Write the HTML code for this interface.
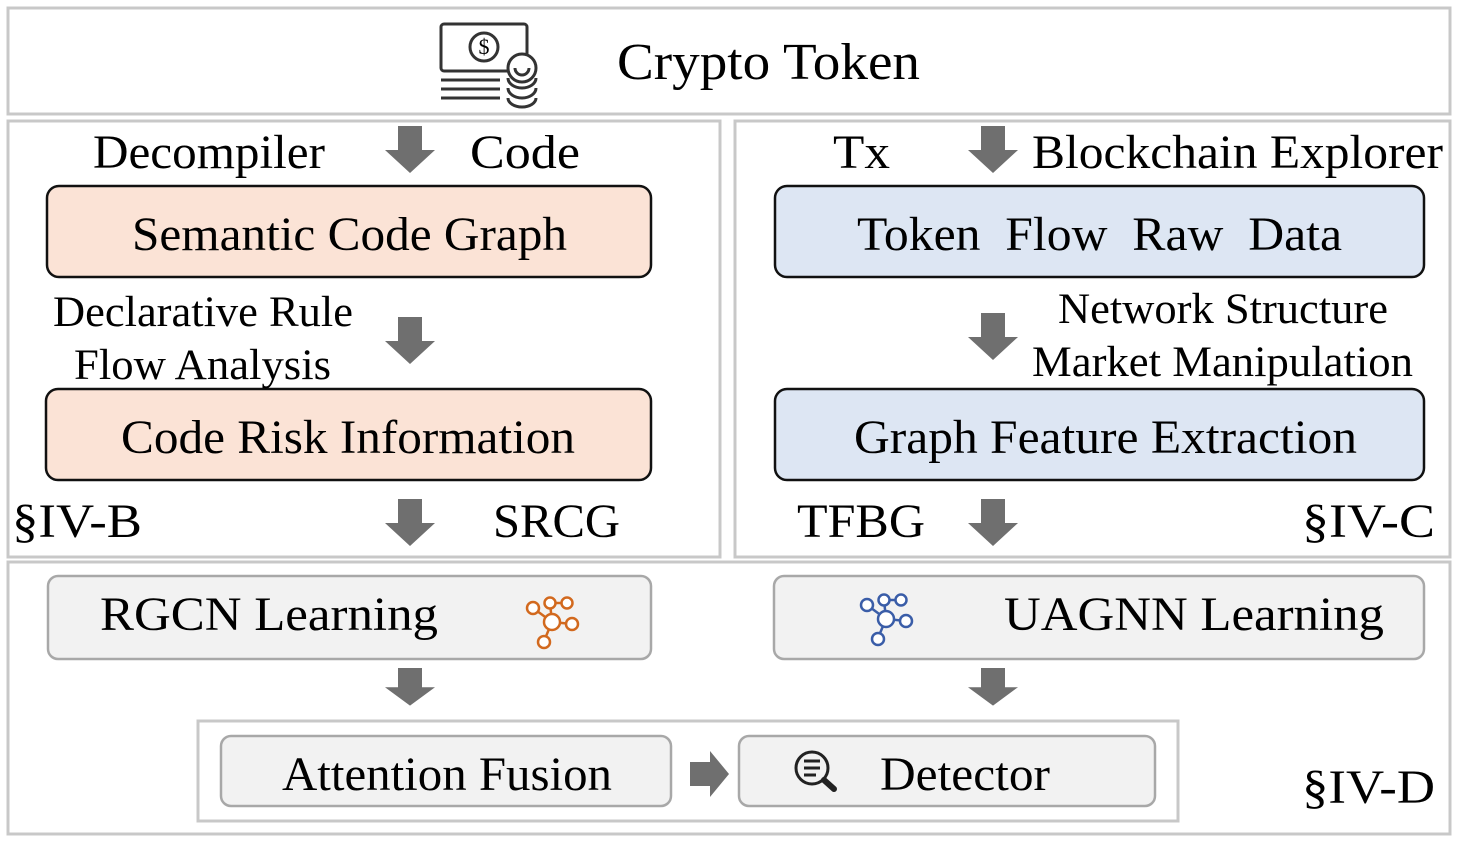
<!DOCTYPE html>
<html><head><meta charset="utf-8"><style>
html,body{margin:0;padding:0;background:#fff;}
svg{display:block;}
text{font-family:"Liberation Serif",serif;fill:#000;}
</style></head><body>
<svg width="1463" height="843" viewBox="0 0 1463 843" xmlns="http://www.w3.org/2000/svg">
<defs>
<g id="dn"><polygon points="-12,0 12,0 12,24 25,24 0,47 -25,24 -12,24" fill="#6f6f6f"/></g>
<g id="net">
<line x1="-19" y1="-14" x2="0" y2="0"/><line x1="0" y1="0" x2="-2" y2="-19"/><line x1="-2" y1="-19" x2="15" y2="-19"/><line x1="0" y1="0" x2="20" y2="2"/><line x1="0" y1="0" x2="-8" y2="19"/>
<circle cx="0" cy="0" r="8" fill="#fff"/><circle cx="-19" cy="-14" r="6" fill="#fff"/><circle cx="-2" cy="-19" r="5.5" fill="#fff"/><circle cx="15" cy="-19" r="5.5" fill="#fff"/><circle cx="20" cy="2" r="6" fill="#fff"/><circle cx="-8" cy="20" r="6" fill="#fff"/>
</g>
</defs>
<g fill="none" stroke="#c8c8c8" stroke-width="3">
<rect x="8" y="8" width="1442" height="106"/>
<rect x="8" y="121" width="712" height="436"/>
<rect x="735" y="121" width="715" height="436"/>
<rect x="8" y="562" width="1442" height="272"/>
<rect x="198" y="721" width="980" height="100"/>
</g>
<g fill="none" stroke="#333" stroke-width="3">
<rect x="441" y="24" width="86" height="47" rx="3"/>
<circle cx="484" cy="47" r="14"/>
<line x1="441" y1="80" x2="500" y2="80"/><line x1="441" y1="89" x2="500" y2="89"/><line x1="441" y1="98" x2="500" y2="98"/>
<circle cx="522" cy="68" r="14" fill="#fff"/>
<path d="M508 78 a14 10 0 0 0 28 0"/><path d="M508 88 a14 10 0 0 0 28 0"/><path d="M508 98 a14 9 0 0 0 28 0"/>
<path d="M515 68 a7 7 0 0 0 14 0"/>
</g>
<text x="484" y="54" font-size="22" text-anchor="middle" fill="#333">$</text>
<text x="617" y="79" font-size="52" textLength="303" lengthAdjust="spacingAndGlyphs">Crypto Token</text>

<text x="93" y="168" font-size="48" textLength="232" lengthAdjust="spacingAndGlyphs">Decompiler</text>
<text x="470" y="168" font-size="48" textLength="110" lengthAdjust="spacingAndGlyphs">Code</text>
<text x="833" y="168" font-size="48" textLength="57" lengthAdjust="spacingAndGlyphs">Tx</text>
<text x="1032" y="168" font-size="48" textLength="411" lengthAdjust="spacingAndGlyphs">Blockchain Explorer</text>

<g stroke-width="2.5">
<rect x="47" y="186" width="604" height="91" rx="12" fill="#fbe3d6" stroke="#111"/>
<rect x="46" y="389" width="605" height="91" rx="12" fill="#fbe3d6" stroke="#111"/>
<rect x="775" y="186" width="649" height="91" rx="12" fill="#dde6f3" stroke="#111"/>
<rect x="775" y="389" width="649" height="91" rx="12" fill="#dde6f3" stroke="#111"/>
<rect x="48" y="576" width="603" height="83" rx="10" fill="#f2f2f2" stroke="#a8a8a8"/>
<rect x="774" y="576" width="650" height="83" rx="10" fill="#f2f2f2" stroke="#a8a8a8"/>
<rect x="221" y="736" width="450" height="70" rx="10" fill="#f2f2f2" stroke="#a8a8a8"/>
<rect x="739" y="736" width="416" height="70" rx="10" fill="#f2f2f2" stroke="#a8a8a8"/>
</g>
<text x="132" y="250" font-size="48" textLength="435" lengthAdjust="spacingAndGlyphs">Semantic Code Graph</text>
<text x="121" y="453" font-size="48" textLength="454" lengthAdjust="spacingAndGlyphs">Code Risk Information</text>
<text x="857" y="250" font-size="48" textLength="485" lengthAdjust="spacingAndGlyphs" word-spacing="12">Token Flow Raw Data</text>
<text x="854" y="453" font-size="48" textLength="503" lengthAdjust="spacingAndGlyphs">Graph Feature Extraction</text>

<text x="53" y="326" font-size="43" textLength="300" lengthAdjust="spacingAndGlyphs">Declarative Rule</text>
<text x="74" y="379" font-size="43" textLength="257" lengthAdjust="spacingAndGlyphs">Flow Analysis</text>
<text x="1058" y="323" font-size="43" textLength="330" lengthAdjust="spacingAndGlyphs">Network Structure</text>
<text x="1032" y="376" font-size="43" textLength="381" lengthAdjust="spacingAndGlyphs">Market Manipulation</text>

<text x="12" y="537" font-size="48" textLength="130" lengthAdjust="spacingAndGlyphs">§IV-B</text>
<text x="493" y="537" font-size="48" textLength="127" lengthAdjust="spacingAndGlyphs">SRCG</text>
<text x="797" y="537" font-size="48" textLength="128" lengthAdjust="spacingAndGlyphs">TFBG</text>
<text x="1302" y="537" font-size="48" textLength="133" lengthAdjust="spacingAndGlyphs">§IV-C</text>
<text x="1302" y="803" font-size="48" textLength="133" lengthAdjust="spacingAndGlyphs">§IV-D</text>

<use href="#dn" x="410" y="126"/>
<use href="#dn" x="410" y="317"/>
<use href="#dn" x="410" y="499"/>
<use href="#dn" x="993" y="126"/>
<use href="#dn" x="993" y="313"/>
<use href="#dn" x="993" y="499"/>
<g transform="translate(0,668) scale(1,0.8)"><use href="#dn" x="410" y="0"/><use href="#dn" x="993" y="0"/></g>
<polygon points="690,762 710,762 710,751 729,774 710,797 710,786 690,786" fill="#6f6f6f"/>

<text x="100" y="630" font-size="48" textLength="338" lengthAdjust="spacingAndGlyphs">RGCN  Learning</text>
<text x="1004" y="630" font-size="48" textLength="380" lengthAdjust="spacingAndGlyphs">UAGNN  Learning</text>
<g transform="translate(552,622)" stroke="#d2691e" stroke-width="2.5"><use href="#net"/></g>
<g transform="translate(886,619)" stroke="#3a5da8" stroke-width="2.5"><use href="#net"/></g>

<text x="282" y="790" font-size="48" textLength="330" lengthAdjust="spacingAndGlyphs">Attention Fusion</text>
<text x="880" y="790" font-size="48" textLength="170" lengthAdjust="spacingAndGlyphs">Detector</text>
<g fill="none" stroke="#222" stroke-width="3">
<circle cx="812" cy="768" r="16"/>
<line x1="804" y1="761" x2="820" y2="761"/><line x1="804" y1="768" x2="820" y2="768"/><line x1="804" y1="775" x2="816" y2="775"/>
<line x1="824" y1="780" x2="834" y2="789" stroke-width="6" stroke-linecap="round"/>
</g>
</svg>
</body></html>
